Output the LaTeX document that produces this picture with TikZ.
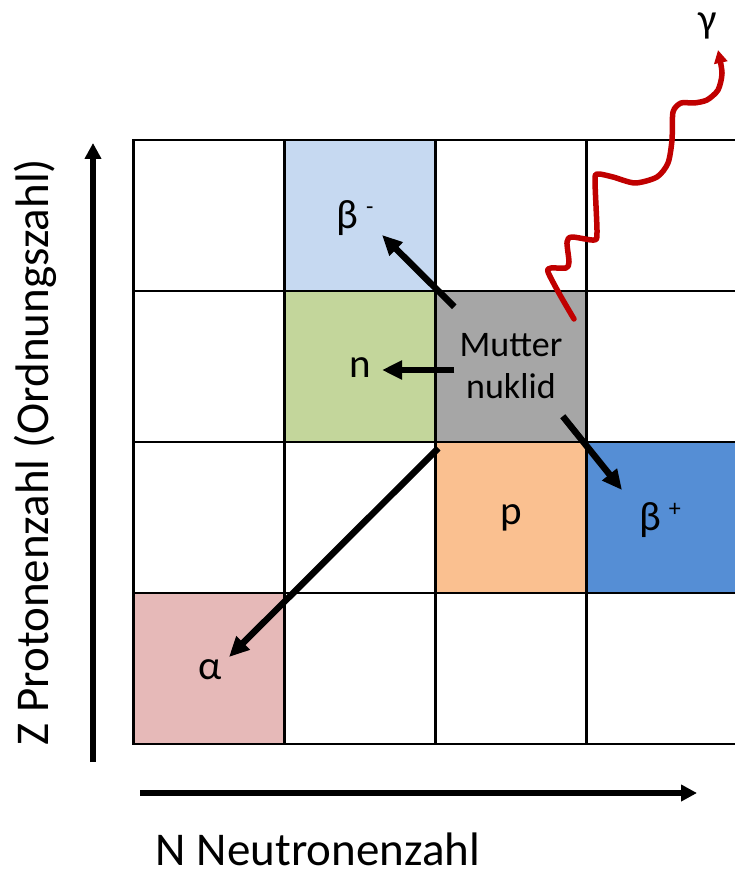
\documentclass[tikz,border=0pt]{standalone}
\usepackage{fontspec}
\setmainfont{Carlito}
\usetikzlibrary{arrows.meta,positioning}

\definecolor{bminuscol}{HTML}{C6D9F1}
\definecolor{ncol}{HTML}{C3D69B}
\definecolor{muttercol}{HTML}{A6A6A6}
\definecolor{pcol}{HTML}{FAC090}
\definecolor{bpluscol}{HTML}{558ED5}
\definecolor{alphacol}{HTML}{E6B9B8}
\definecolor{gammacol}{HTML}{C00000}

\begin{document}
\begin{tikzpicture}[x=1pt, y=-1pt,
  cell/.style={draw, line width=2.5pt, minimum size=151pt, inner sep=0pt},
  lab/.style={inner sep=0pt, font=\fontsize{41}{44}\selectfont},
  axlab/.style={inner sep=0pt, font=\fontsize{47}{52}\selectfont},
  arr/.style={-{Triangle[length=20pt,width=18pt]}, line width=6.5pt},
  axis/.style={-{Triangle[length=16pt,width=16pt]}, line width=6pt},
  gam/.style={-{Triangle[length=13pt,width=13pt]}, line width=5.5pt, draw=gammacol, color=gammacol, line cap=round, line join=round}]
\useasboundingbox (0,0) rectangle (735,877);

% grid of nuclides
\foreach \i in {0,...,3}
  \foreach \j in {0,...,3}
    \node[cell] (c\i\j) at ({209+151*\i},{215.5+151*\j}) {};

% decay products
\node[cell, fill=bminuscol] (bminus) at (c10) {};
\node[cell, fill=ncol]      (ncell)  at (c11) {};
\node[cell, fill=muttercol, align=center, font=\fontsize{36}{42}\selectfont] (mutter) at (c21) {Mutter\\nuklid};
\node[cell, fill=pcol, font=\fontsize{41}{44}\selectfont] (pcell) at (c22) {p};
\node[cell, fill=bpluscol]  (bplus)  at (c32) {};
\node[cell, fill=alphacol]  (alpha)  at (c03) {};

\node[lab] (bmlab) at (355,218) {β\hspace{8pt}\raisebox{14pt}{\fontsize{24}{24}\selectfont -}};
\node[lab] (nlab)  at (360,368) {n};
\node[lab] (bplab) at (660,520) {β\hspace{8pt}\raisebox{14pt}{\fontsize{24}{24}\selectfont +}};
\node[lab] (alab)  at (210,670) {α};
\node[lab] (glab)  at (708,26)  {γ};

% arrows out of the mother nuclide
\coordinate (bmtip) at (382,235);
\coordinate (ntip)  at (382,370);
\coordinate (bptip) at (622,490);
\coordinate (atip)  at (229,657);
\draw[arr] ([shift={(20,17)}]mutter.north west) -- (bmtip);
\draw[arr] ([shift={(20,3.5)}]mutter.west) -- (ntip);
\draw[arr] ([shift={(-25,-27)}]mutter.south east) -- (bptip);
\draw[arr] ([shift={(4,5)}]mutter.south west) -- (atip);

% gamma
\draw[gam] plot[smooth, tension=0.45] coordinates {(574,319) (560,295) (548,272) (551,268) (566,268) (569,262) (567,242) (572,237) (594,240) (597,232) (595,180) (598,174) (613,177) (635,183) (657,177) (668,163) (672,140) (673,112) (681,103) (694,103) (707,100) (718,90) (722,73) (718,50)};

% axes
\coordinate (zbot) at (93,762);
\coordinate (ztop) at (93,143);
\coordinate (nleft) at (140,793);
\coordinate (nright) at (697,793);
\draw[axis] (zbot) -- (ztop);
\draw[axis] (nleft) -- (nright);
\node[axlab, rotate=90] (zlab) at (35,452) {Z Protonenzahl (Ordnungszahl)};
\node[axlab] (nlabel) at (318,849) {N Neutronenzahl};
\end{tikzpicture}
\end{document}
